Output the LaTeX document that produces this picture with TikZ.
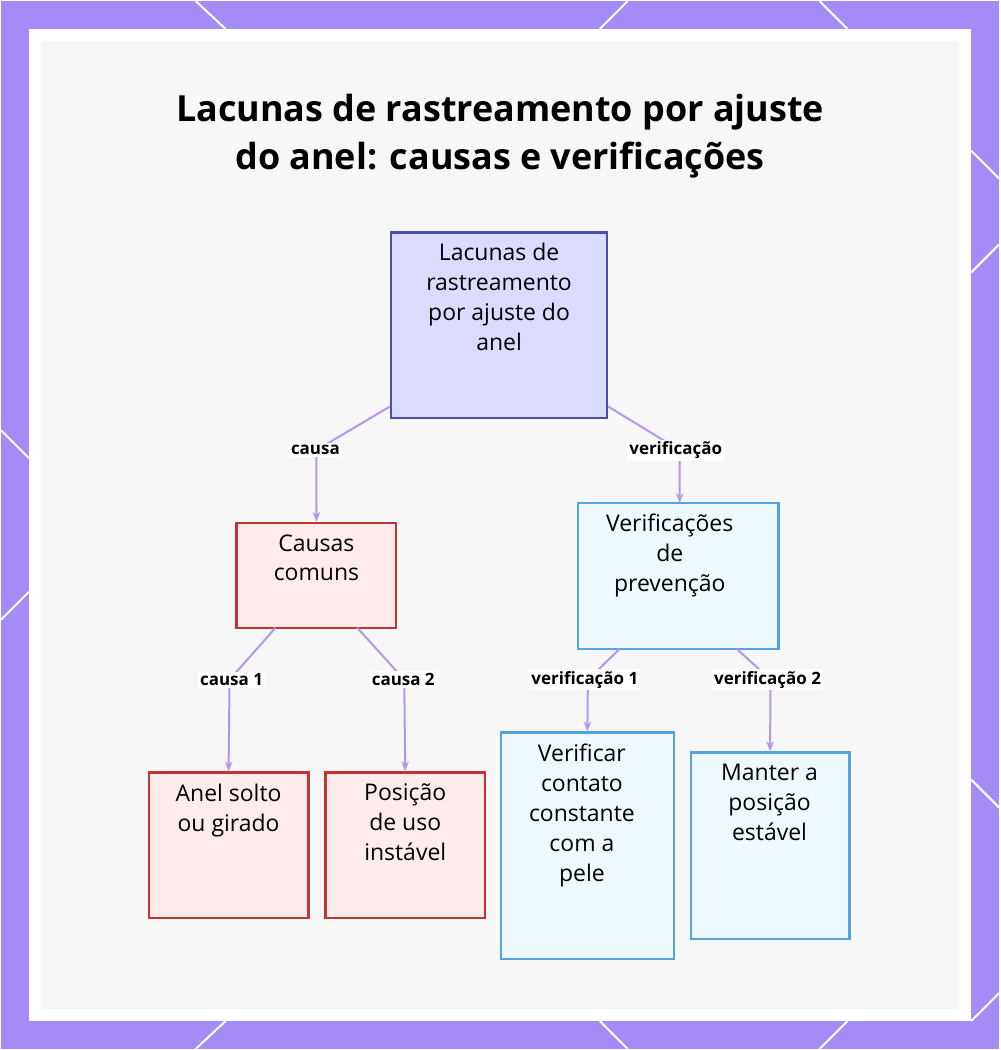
\documentclass[tikz,border=0pt]{standalone}
\usepackage{fontspec}
\setmainfont{Open Sans}
\usetikzlibrary{arrows.meta}
\definecolor{purp}{HTML}{A48BF6}
\definecolor{conn}{HTML}{B496EA}
\begin{document}
\begin{tikzpicture}[x=0.5pt,y=-0.5pt,
 box/.style={draw,line width=1.2pt,inner sep=0pt},
 txt/.style={align=center,font=\fontsize{11.5}{15}\selectfont,anchor=north,inner sep=0pt},
 root/.style={box,fill=blue!14,draw=blue!55!black!70},
 red/.style={box,fill=red!8,draw=red!70!black!80},
 cyan/.style={box,fill=cyan!7,draw=cyan!70!blue!70},
 lab/.style={font=\bfseries\fontsize{8.5}{10}\selectfont,fill=white,inner sep=1pt},
 con/.style={draw=conn,line width=1pt,-{Stealth[length=5pt]}}]
\fill[purp] (0,0) rectangle (1000,1050);
\foreach \a/\b/\c/\d in {195/0/225/28, 600/28/628/0, 820/0/848/28, 0/430/28/458, 0/620/28/592, 972/150/1000/178, 972/272/1000/244, 972/780/1000/808, 195/1050/225/1022, 600/1022/628/1050, 820/1050/848/1022, 972/1022/1000/994}
 \draw[white,line width=1pt] (\a,\b) -- (\c,\d);
\fill[white] (28,28) rectangle (972,1022);
\fill[black!3] (40,40) rectangle (960,1010);
\node[align=center,font=\bfseries\fontsize{18}{24}\selectfont] (title) at (500,135) {Lacunas de rastreamento por ajuste\\do anel: causas e verificações};
\node[root,minimum width=108pt,minimum height=93pt] (r) at (499,325) {};
\node[red,minimum width=80pt,minimum height=52.5pt] (c) at (316,575.5) {};
\node[cyan,minimum width=100.5pt,minimum height=73pt] (v) at (678.5,576) {};
\node[red,minimum width=80pt,minimum height=73pt] (a1) at (228,846) {};
\node[red,minimum width=80pt,minimum height=73pt] (a2) at (405,846) {};
\node[cyan,minimum width=86.5pt,minimum height=113.5pt] (b1) at (587.5,846.5) {};
\node[cyan,minimum width=79.5pt,minimum height=93.5pt] (b2) at (770.5,846.5) {};
\node[txt] (tr) at (499,242) {Lacunas de\\rastreamento\\por ajuste do\\anel};
\node[txt] (tc) at (316,534) {Causas\\comuns};
\node[txt] (tv) at (670,514) {Verificações\\de\\prevenção};
\node[txt] (ta1) at (228,784) {Anel solto\\ou girado};
\node[txt] (ta2) at (405,784) {Posição\\de uso\\instável};
\node[txt] (tb1) at (582,744) {Verificar\\contato\\constante\\com a\\pele};
\node[txt] (tb2) at (770,764) {Manter a\\posição\\estável};
\draw[con] (r.south west) ++(0,-13) -- (316,450) -- (c.north);
\draw[con] (r.south east) ++(0,-13) -- (680,450) -- (680,503);
\draw[con] (275,628) -- (229,680) -- (a1.north);
\draw[con] (357,628) -- (404,680) -- (a2.north);
\draw[con] (620,649) -- (588,680) -- (b1.north);
\draw[con] (737,649) -- (771,680) -- (b2.north);
\node[lab] (l1) at (315,450) {causa};
\node[lab] (l2) at (676,450) {verificação};
\node[lab] (l3) at (231,680) {causa 1};
\node[lab] (l4) at (403,680) {causa 2};
\node[lab] (l5) at (585,680) {verificação 1};
\node[lab] (l6) at (768,680) {verificação 2};
\end{tikzpicture}
\end{document}
